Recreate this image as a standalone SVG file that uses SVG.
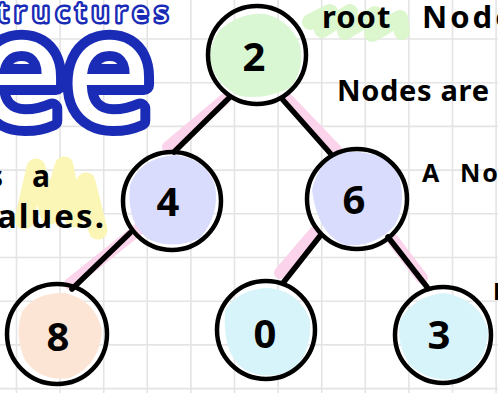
<svg xmlns="http://www.w3.org/2000/svg" width="498" height="393" viewBox="0 0 498 393">
<style>
.grid line{stroke:#e4e4e4;stroke-width:1.6}
.edge{stroke:#000;stroke-width:5.5;stroke-linecap:round}
.hl{stroke:#fbd3ea;stroke-width:12;stroke-linecap:round;fill:none}
.ring{fill:none;stroke:#000;stroke-width:4.5}
.num{font-family:"Noto Sans","DejaVu Sans",sans-serif;font-weight:700;font-size:40px;text-anchor:middle;fill:#000}
.lbl{font-family:"Noto Sans","DejaVu Sans",sans-serif;font-weight:700;fill:#000}
.bub{font-family:"Noto Sans","Liberation Sans",sans-serif;font-weight:400;fill:#fff;stroke:#1a2cb5;stroke-linejoin:round;stroke-linecap:round;paint-order:stroke fill}
</style>
<rect width="498" height="393" fill="#fff"/>
<g class="grid">
<line x1="16.5" y1="0" x2="16.5" y2="393"/><line x1="60.1" y1="0" x2="60.1" y2="393"/><line x1="103.7" y1="0" x2="103.7" y2="393"/><line x1="147.3" y1="0" x2="147.3" y2="393"/><line x1="190.9" y1="0" x2="190.9" y2="393"/><line x1="234.5" y1="0" x2="234.5" y2="393"/><line x1="278.1" y1="0" x2="278.1" y2="393"/><line x1="321.7" y1="0" x2="321.7" y2="393"/><line x1="365.3" y1="0" x2="365.3" y2="393"/><line x1="408.9" y1="0" x2="408.9" y2="393"/><line x1="452.5" y1="0" x2="452.5" y2="393"/><line x1="496.1" y1="0" x2="496.1" y2="393"/>
<line x1="0" y1="39" x2="498" y2="39"/><line x1="0" y1="82.7" x2="498" y2="82.7"/><line x1="0" y1="126.4" x2="498" y2="126.4"/><line x1="0" y1="170.1" x2="498" y2="170.1"/><line x1="0" y1="213.8" x2="498" y2="213.8"/><line x1="0" y1="257.5" x2="498" y2="257.5"/><line x1="0" y1="301.2" x2="498" y2="301.2"/><line x1="0" y1="344.9" x2="498" y2="344.9"/><line x1="0" y1="388.6" x2="498" y2="388.6"/>
</g>
<!-- highlights -->
<path d="M310 22 L330 12 L322 30 L350 12 L345 32 L375 14 L372 34 L400 18 L402 32" stroke="#d8f6c9" stroke-width="16" fill="none" stroke-linecap="round" stroke-linejoin="round" opacity="0.9"/>
<path d="M24 220 L36 168 L50 215 L64 166 L74 218 L86 182 L98 230" stroke="#fcf6b6" stroke-width="19" fill="none" stroke-linecap="round" stroke-linejoin="round"/>
<!-- title -->
<text class="bub" x="-2" y="22" font-size="28" stroke-width="5" textLength="170" lengthAdjust="spacing">tructures</text>
<text class="bub" x="-24" y="124" font-size="156" stroke-width="20">ee</text>
<!-- labels -->
<text class="lbl" x="322" y="28" font-size="31" letter-spacing="1">root<tspan x="422" letter-spacing="3">Node</tspan></text>
<text class="lbl" x="337" y="101" font-size="29" textLength="152" lengthAdjust="spacing">Nodes are</text>
<text class="lbl" x="422" y="182" font-size="25">A<tspan x="460" letter-spacing="2">Node</tspan></text>
<text class="lbl" x="-12" y="187" font-size="30">s<tspan x="32">a</tspan></text>
<text class="lbl" x="-3" y="228" font-size="33" textLength="107" lengthAdjust="spacing">alues.</text>
<text class="lbl" x="493" y="300" font-size="24">L</text>
<!-- connectors -->
<g id="connectors">
<line class="hl" x1="168" y1="147" x2="224" y2="100"/>
<line class="hl" x1="288" y1="100" x2="336" y2="150"/>
<line class="hl" x1="70" y1="284" x2="140" y2="228"/>
<line class="hl" x1="280" y1="273" x2="315" y2="232"/>
<line class="hl" x1="393" y1="240" x2="422" y2="278"/>
<line class="edge" x1="230" y1="97" x2="174" y2="152"/>
<line class="edge" x1="283" y1="100" x2="330" y2="153"/>
<line class="edge" x1="130" y1="233" x2="72" y2="289"/>
<line class="edge" x1="320" y1="236" x2="283" y2="283"/>
<line class="edge" x1="388" y1="237" x2="427" y2="287"/>
</g>
<!-- nodes -->
<g id="node-2">
<path d="M220 30 Q240 12 265 14 Q290 20 300 45 Q305 70 290 88 Q265 100 240 96 Q215 85 210 60 Q210 42 220 30Z" fill="#d9f7d3"/>
<circle class="ring" cx="257" cy="55" r="49"/>
<text class="num" x="254" y="71">2</text>
</g>
<g id="node-4">
<path d="M130 185 Q140 158 175 155 Q205 158 215 185 Q220 215 200 238 Q175 250 150 240 Q126 225 130 185Z" fill="#d9dcfc"/>
<circle class="ring" cx="172" cy="201" r="49"/>
<text class="num" x="168" y="216">4</text>
</g>
<g id="node-6">
<path d="M312 190 Q318 160 345 152 Q380 150 397 170 Q408 200 395 225 Q375 248 345 245 Q318 235 312 190Z" fill="#d9dcfc"/>
<circle class="ring" cx="357" cy="199" r="50"/>
<text class="num" x="354" y="214">6</text>
</g>
<g id="node-8">
<path d="M22 312 Q35 292 65 293 Q95 300 102 330 Q100 365 70 378 Q40 382 25 360 Q14 335 22 312Z" fill="#fde5d6"/>
<circle class="ring" cx="57" cy="334" r="50"/>
<text class="num" x="58" y="351">8</text>
</g>
<g id="node-0">
<path d="M225 310 Q240 288 270 288 Q300 292 310 320 Q312 350 295 368 Q270 382 245 370 Q222 355 225 310Z" fill="#d8f4fb"/>
<circle class="ring" cx="266" cy="330" r="49"/>
<text class="num" x="265" y="348">0</text>
</g>
<g id="node-3">
<path d="M400 320 Q415 295 445 293 Q480 300 488 330 Q488 362 460 378 Q430 384 410 365 Q396 345 400 320Z" fill="#d8f4fb"/>
<circle class="ring" cx="443" cy="335" r="48"/>
<text class="num" x="439" y="349">3</text>
</g>
</svg>
